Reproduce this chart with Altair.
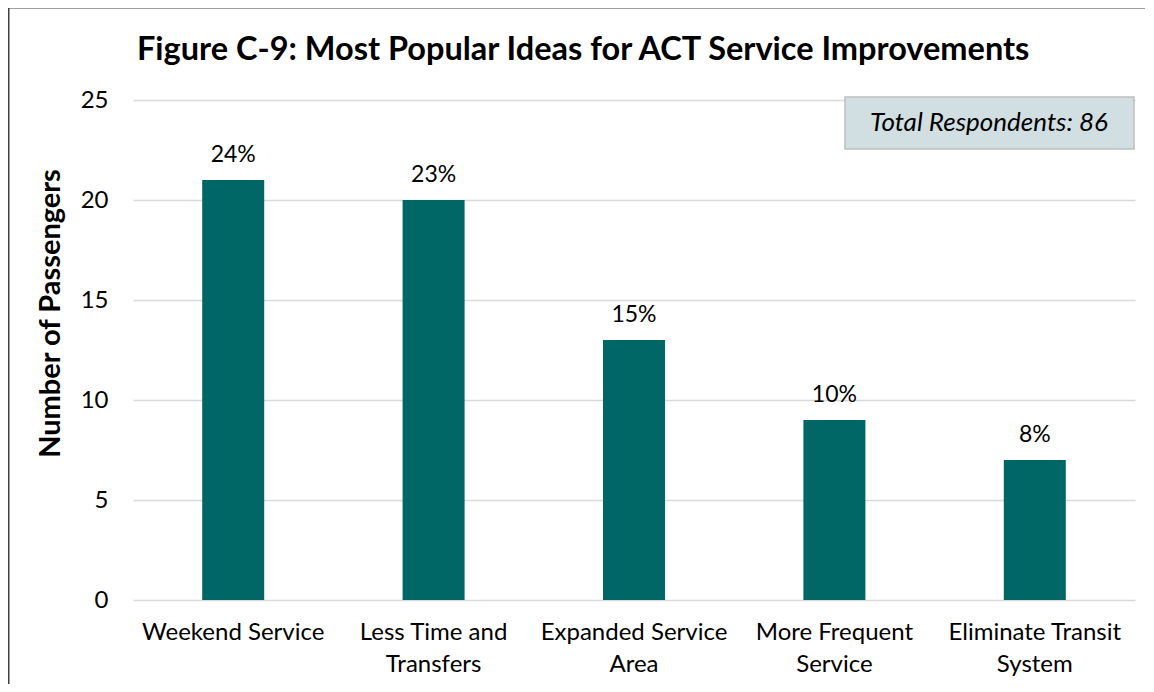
import altair as alt
import pandas as pd

categories = ["Weekend Service", "Less Time and|Transfers", "Expanded Service|Area",
              "More Frequent|Service", "Eliminate Transit|System"]
passengers = [21, 20, 13, 9, 7]
percent_labels = ["24%", "23%", "15%", "10%", "8%"]
total_respondents = 86
chart_title = "Figure C-9: Most Popular Ideas for ACT Service Improvements"

df = pd.DataFrame({"cat": categories, "n": passengers, "pct": percent_labels})

FONT = "Lato"

x = alt.X("cat:N", sort=categories, title=None,
          scale=alt.Scale(paddingInner=0.0, paddingOuter=0.0),
          axis=alt.Axis(labelExpr="split(datum.label, '|')", labelAngle=0,
                        labelFontSize=24, labelFont=FONT, labelColor="#000000",
                        labelPadding=20, labelLineHeight=32, ticks=False, domain=False,
                        labelLimit=400))
y = alt.Y("n:Q", title="Number of Passengers",
          scale=alt.Scale(domain=[0, 25], nice=False),
          axis=alt.Axis(values=[0, 5, 10, 15, 20, 25], labelFontSize=24, labelFont=FONT,
                        labelColor="#000000", labelPadding=25, ticks=False, domain=False,
                        gridColor="#d9d9d9", gridWidth=1.3,
                        titleFontSize=29, titleFont=FONT, titleFontWeight="bold",
                        titleColor="#000000", titleX=-83, titleY=213, titleAngle=270,
                        titleAlign="center", titleBaseline="middle"))

bars = alt.Chart(df).mark_bar(size=62, color="#006666").encode(x=x, y=y)

pcts = alt.Chart(df).mark_text(dy=-25, fontSize=23, font=FONT, color="#000000").encode(
    x=alt.X("cat:N", sort=categories), y="n:Q", text="pct:N")

note_df = pd.DataFrame({"t": [f"Total Respondents: {total_respondents}"],
                        "title": [chart_title]})
box = alt.Chart(note_df).mark_rect(fill="#d1dfe3", stroke="#bfbfbf", strokeWidth=1.5).encode(
    x=alt.value(712), x2=alt.value(1001), y=alt.value(-3), y2=alt.value(49))
note = alt.Chart(note_df).mark_text(fontSize=26, font=FONT, fontStyle="italic",
                                    color="#000000").encode(
    x=alt.value(856), y=alt.value(23), text="t:N")
title = alt.Chart(note_df).mark_text(fontSize=32.5, font=FONT, fontWeight="bold", align="left",
                                     baseline="alphabetic", color="#000000").encode(
    x=alt.value(4), y=alt.value(-40), text="title:N")

frame_l = alt.Chart(note_df).mark_rule(color="#404040", strokeWidth=2).encode(
    x=alt.value(-124.5), y=alt.value(-92.5), y2=alt.value(600))
frame_t = alt.Chart(note_df).mark_rule(color="#404040", strokeWidth=2).encode(
    x=alt.value(-124.5), x2=alt.value(1012), y=alt.value(-92.5))

chart = alt.layer(bars, pcts, box, note, title, frame_l, frame_t).properties(
    width=1002, height=500,
    autosize=alt.AutoSizeParams(type="none"),
    padding={"left": 125, "top": 92, "right": 10, "bottom": 84},
).configure(background="#ffffff", view=alt.ViewConfig(stroke="transparent"))

chart.save("out.html", embed_options={"renderer": "svg", "actions": False})
